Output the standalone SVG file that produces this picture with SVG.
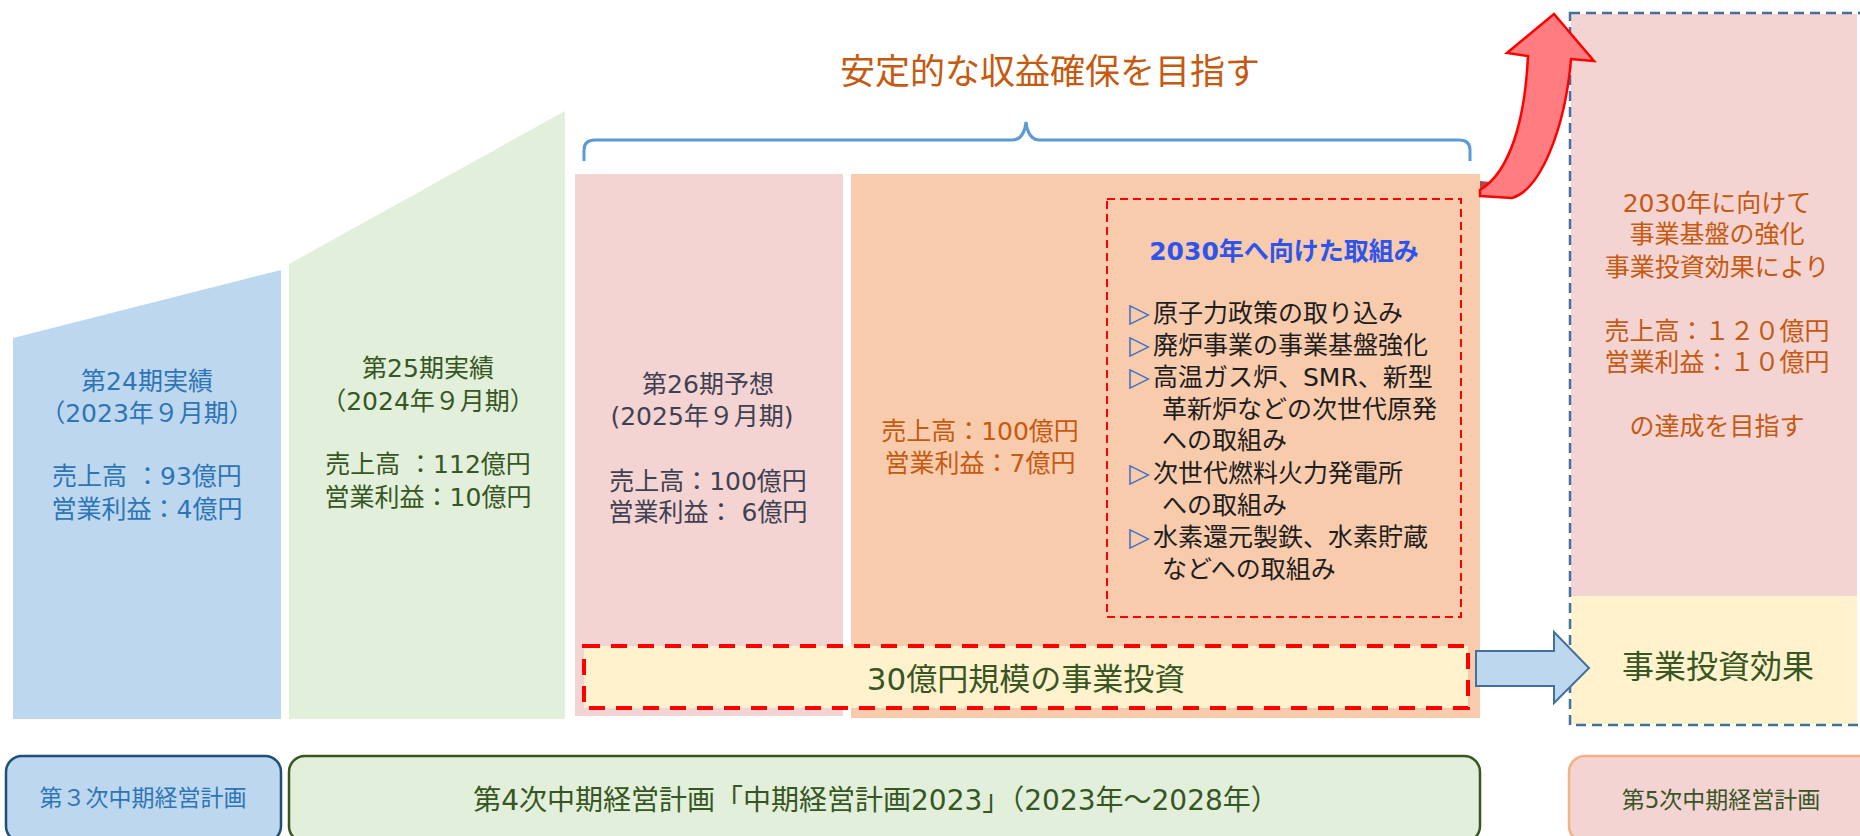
<svg xmlns="http://www.w3.org/2000/svg" width="1860" height="836" viewBox="0 0 1860 836">
<style>
text{font-family:"DejaVu Sans","Noto Sans CJK JP",sans-serif;}
.c{text-anchor:middle;}
.t25{font-size:25px;}
.blue{fill:#2E75B6;}
.green{fill:#375623;}
.slate{fill:#3F4152;}
.orange{fill:#C55A11;}
.ink{fill:#1E1E1E;}
.tri{fill:#4472C4;font-size:27px;}
.reddash{stroke:#FF0000;}
</style>
<rect width="1860" height="836" fill="#FFFFFF"/>

<g id="period24">
<polygon points="13,338 281,270 281,719 13,719" fill="#BDD7EE"/>
<text class="c t25 blue" x="147" y="390">第24期実績</text>
<text class="c t25 blue" x="147" y="422">（2023年９月期）</text>
<text class="c t25 blue" x="147" y="485">売上高 ：93億円</text>
<text class="c t25 blue" x="147" y="518">営業利益：4億円</text>
</g>

<g id="period25">
<polygon points="289,264 565,111 565,719 289,719" fill="#E2EFDA"/>
<text class="c t25 green" x="428" y="377">第25期実績</text>
<text class="c t25 green" x="428" y="410">（2024年９月期）</text>
<text class="c t25 green" x="428" y="473">売上高 ：112億円</text>
<text class="c t25 green" x="428" y="506">営業利益：10億円</text>
</g>

<g id="period26">
<rect x="575" y="174" width="268" height="542" fill="#F4D3D3"/>
<text class="c t25 slate" x="708" y="393">第26期予想</text>
<text class="c t25 slate" x="702" y="425">(2025年９月期)</text>
<text class="c t25 slate" x="708" y="490">売上高：100億円</text>
<text class="c t25 slate" x="708" y="521">営業利益： 6億円</text>
</g>

<g id="period27">
<rect x="851" y="174" width="629" height="544" fill="#F8CBAD"/>
<text class="c t25 orange" x="980" y="440">売上高：100億円</text>
<text class="c t25 orange" x="980" y="472">営業利益：7億円</text>
</g>

<g id="initiatives2030">
<rect x="1107" y="199" width="354" height="418" fill="none" class="reddash" stroke-width="2" stroke-dasharray="8 5"/>
<text class="c t25" x="1284" y="260" font-weight="bold" fill="#2F54EB">2030年へ向けた取組み</text>
<g class="t25 ink">
<text x="1129" y="322"><tspan class="tri">▷</tspan><tspan x="1153">原子力政策の取り込み</tspan></text>
<text x="1129" y="354"><tspan class="tri">▷</tspan><tspan x="1153">廃炉事業の事業基盤強化</tspan></text>
<text x="1129" y="386"><tspan class="tri">▷</tspan><tspan x="1153">高温ガス炉、SMR、新型</tspan></text>
<text x="1162" y="418">革新炉などの次世代原発</text>
<text x="1162" y="449">への取組み</text>
<text x="1129" y="482"><tspan class="tri">▷</tspan><tspan x="1153">次世代燃料火力発電所</tspan></text>
<text x="1162" y="514">への取組み</text>
<text x="1129" y="546"><tspan class="tri">▷</tspan><tspan x="1153">水素還元製鉄、水素貯蔵</tspan></text>
<text x="1162" y="578">などへの取組み</text>
</g>
</g>

<g id="investment">
<rect x="584" y="646" width="884" height="62" fill="#FFF2CC" class="reddash" stroke-width="4" stroke-dasharray="16 11"/>
<text class="c green" x="1026" y="690" font-size="31">30億円規模の事業投資</text>
</g>

<g id="goal">
<text class="c orange" x="1050" y="84" font-size="35">安定的な収益確保を目指す</text>
</g>

<g id="target2030">
<rect x="1571" y="14" width="286" height="582" fill="#F4D3D3"/>
<rect x="1571" y="596" width="286" height="128" fill="#FFF2CC"/>
<rect x="1570" y="13" width="300" height="712" fill="none" stroke="#41719C" stroke-width="2.5" stroke-dasharray="10 6"/>
<text class="c t25 orange" x="1717" y="212">2030年に向けて</text>
<text class="c t25 orange" x="1717" y="243">事業基盤の強化</text>
<text class="c t25 orange" x="1717" y="276">事業投資効果により</text>
<text class="c t25 orange" x="1717" y="340">売上高：１２０億円</text>
<text class="c t25 orange" x="1717" y="371">営業利益：１０億円</text>
<text class="c t25 orange" x="1717" y="435">の達成を目指す</text>
<text class="c green" x="1718" y="678" font-size="32">事業投資効果</text>
</g>

<g id="plan3">
<rect x="6" y="756" width="275" height="86" rx="16" fill="#BDD7EE" stroke="#1F4E79" stroke-width="2.5"/>
<text class="c blue" x="143" y="806" font-size="23">第３次中期経営計画</text>
</g>
<g id="plan4">
<rect x="289" y="756" width="1191" height="86" rx="16" fill="#E2EFDA" stroke="#385723" stroke-width="2.5"/>
<text class="c green" x="876" y="810" font-size="28">第4次中期経営計画「中期経営計画2023」（2023年～2028年）</text>
</g>
<g id="plan5">
<rect x="1569" y="756" width="310" height="86" rx="16" fill="#F4D3D3" stroke="#F4B183" stroke-width="2.5"/>
<text class="c green" x="1721" y="808" font-size="23">第5次中期経営計画</text>
</g>

<g id="connectors">
<path d="M584,161 L584,150 Q584,140 595,140 L1012,140 Q1024,140 1026,122 Q1028,140 1040,140 L1459,140 Q1470,140 1470,150 L1470,161" fill="none" stroke="#5B9BD5" stroke-width="3"/>
<polygon points="1476,651 1554,651 1554,632 1589,668 1554,703 1554,686 1476,686" fill="#BDD7EE" stroke="#41719C" stroke-width="2"/>
<polygon points="1480,181 1491,182 1487,191 1480,192" fill="#B04848"/>
<path d="M1480,196 L1512,198 C1540,190 1565,130 1571,59 L1594,61 L1554,14 L1507,53 L1528,56 C1525,120 1510,172 1480,190 Z" fill="#FF7C80" stroke="#FF0000" stroke-width="2.5" stroke-linejoin="miter"/>
</g>
</svg>
